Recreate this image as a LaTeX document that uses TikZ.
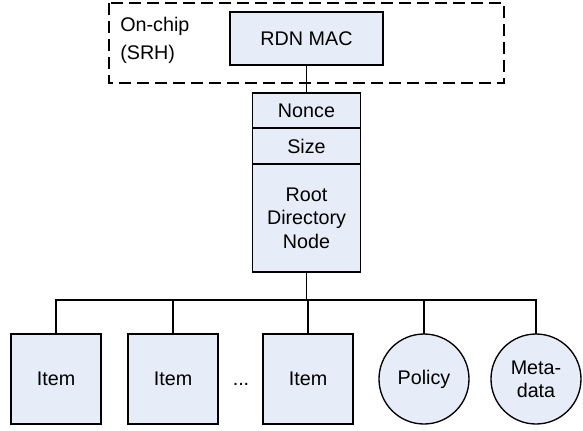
\documentclass[tikz,border=0pt]{standalone}
\usepackage{fontspec}
\setmainfont{Liberation Sans}
\usetikzlibrary{positioning}

\definecolor{boxfill}{RGB}{230,236,248}

\tikzset{
    block/.style = {
        rectangle,
        minimum width=81pt,
        inner sep=0pt,
        outer sep=0pt,
        align=center,
        draw=black,
        fill=boxfill,
        line width=1pt
    },
    itembox/.style = {
        rectangle,
        minimum width=67.5pt,
        minimum height=67.5pt,
        inner sep=0pt,
        outer sep=0pt,
        align=center,
        draw=black,
        fill=boxfill,
        line width=1pt
    },
    roundbox/.style = {
        circle,
        minimum size=67.5pt,
        inner sep=0pt,
        outer sep=0pt,
        align=center,
        draw=black,
        fill=boxfill,
        line width=1pt
    },
    link/.style = {
        line width=1pt
    }
}

\begin{document}
\begin{tikzpicture}[x=0.75pt, y=-0.75pt, every node/.style={font=\fontsize{14.8}{17.5}\selectfont}]
\useasboundingbox (0,0) rectangle (583,430);

% on-chip part
\draw [line width=1.1pt, dash pattern=on 9pt off 4.5pt] (109,3) rectangle (504,83);
\node (onchip) [anchor=north west, align=left, inner sep=0pt, font=\fontsize{14.8}{21}\selectfont] at (120,17) {On-chip\\(SRH)};
\node (mac) [block, minimum width=114.75pt, minimum height=39.75pt] at (306.5,38.5) {RDN MAC};

% root directory stack
\node (nonce) [block, minimum height=26.25pt] at (306.5,110.5) {Nonce};
\node (size) [block, minimum height=27pt, below=0pt of nonce] {Size};
\node (root) [block, minimum height=81pt, below=0pt of size] {Root\\Directory\\Node};

% children
\node (item1) [itembox] at (56,379) {Item};
\node (item2) [itembox, right=20.25pt of item1] {Item};
\node (item3) [itembox, right=33.75pt of item2] {Item};
\coordinate (dotsx) at (241,0);
\node (dots) [anchor=base] at (item3.base -| dotsx) {...};
\node (policy) [roundbox, right=19.5pt of item3] {Policy};
\node (meta) [roundbox, right=16.5pt of policy] {Meta-\\data};

% connectors
\coordinate (bus) at (0,300);
\draw [link] (mac) -- (nonce);
\draw [link] (root) -- (root |- bus);
\draw [link] (item1) |- (meta |- bus) -- (meta);
\foreach \n in {item2,item3,policy}
    \draw [link] (\n) -- (\n |- bus);

\end{tikzpicture}
\end{document}
